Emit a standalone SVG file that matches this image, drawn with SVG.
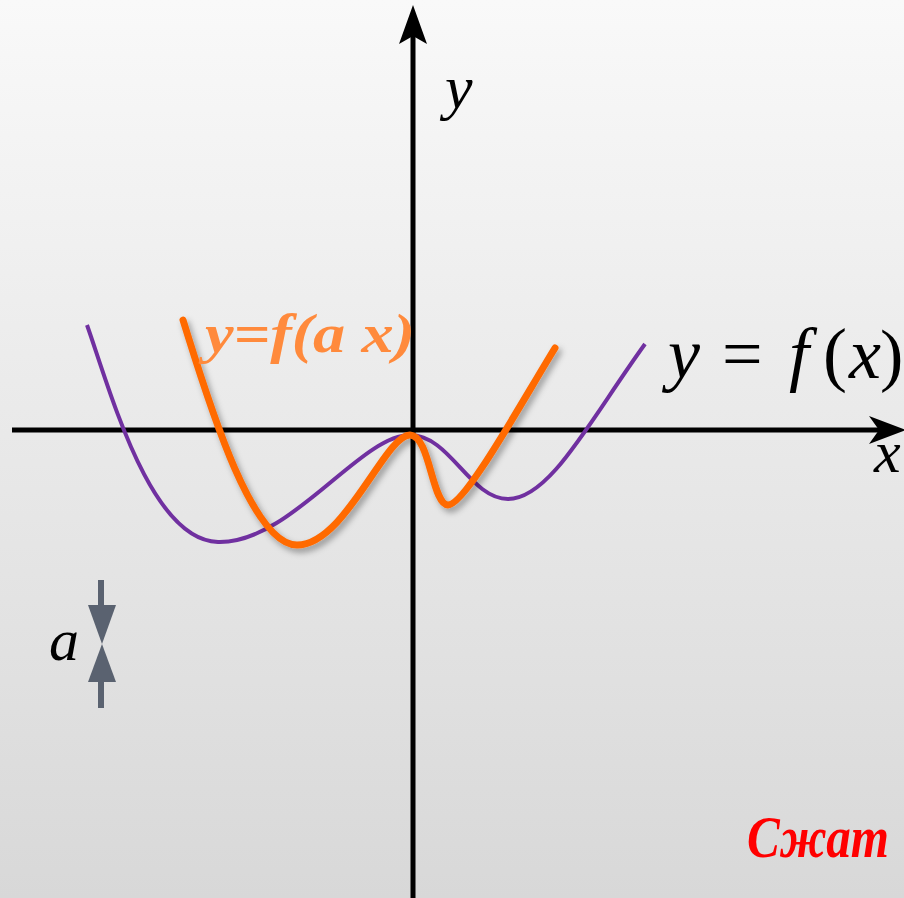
<svg xmlns="http://www.w3.org/2000/svg" width="904" height="898" viewBox="0 0 904 898">
<defs>
<linearGradient id="bg" x1="0" y1="0" x2="0" y2="1">
<stop offset="0" stop-color="#f9f9f9"/>
<stop offset="1" stop-color="#d8d8d8"/>
</linearGradient>
<filter id="sh" x="-10%" y="-10%" width="130%" height="130%">
<feDropShadow dx="3" dy="4" stdDeviation="3" flood-color="#000" flood-opacity="0.35"/>
</filter>
<style>
.ax{stroke:#000;stroke-width:5;fill:none}
.serif{font-family:"Times New Roman","Liberation Serif","DejaVu Serif",serif}
.it{font-style:italic}
.math{fill:#000}
.purple{stroke:#7030a0;stroke-width:4;fill:none}
.orange{stroke:#ff6a00;stroke-width:7;fill:none;stroke-linecap:round;stroke-linejoin:round}
.gray{fill:#5a6270}
</style>
</defs>
<rect width="904" height="898" fill="url(#bg)"/>
<g id="axes">
<line class="ax" x1="413" y1="30" x2="413" y2="898"/>
<polygon points="413,5 427,44 413,36 399,44" fill="#000"/>
<line class="ax" x1="12" y1="430" x2="880" y2="430"/>
<polygon points="906,430 869,444 879,430 869,416" fill="#000"/>
</g>
<g id="labels">
<text class="serif it math" x="445" y="108" font-size="62">y</text>
<text class="serif it math" x="874" y="472" font-size="60">x</text>
<text class="serif it math" x="668" y="378" font-size="72">y</text>
<text class="serif math" x="722" y="378" font-size="72">=</text>
<text class="serif it math" x="789" y="378" font-size="72">f</text>
<text class="serif math" x="823" y="378" font-size="72">(</text>
<text class="serif it math" x="849" y="378" font-size="72">x</text>
<text class="serif math" x="880" y="378" font-size="70">)</text>
<text class="serif it math" x="49" y="660" font-size="60">a</text>
</g>
<g id="curve-fx">
<path class="purple" d="M87,325 C110,390 150,540 218,542 C290,544 360,435 410,435 C450,435 470,499 508,499 C550,499 590,420 645,344"/>
</g>
<g id="curve-fax" filter="url(#sh)">
<path class="orange" d="M183,320 C205,390 250,545 297,545 C345,545 385,435 410,435 C430,435 432,505 448,505 C465,505 520,405 555,348"/>
</g>
<g id="label-fax">
<text class="serif it" x="205" y="352" font-size="54" font-weight="bold" fill="#ff8a3c" textLength="210" lengthAdjust="spacingAndGlyphs">y=f(a x)</text>
</g>
<g id="scale-marker">
<rect class="gray" x="98" y="580" width="6" height="26"/>
<polygon class="gray" points="88,605 116,605 102,644"/>
<polygon class="gray" points="88,682 116,682 102,644"/>
<rect class="gray" x="98" y="681" width="6" height="27"/>
</g>
<g id="title">
<text class="serif it" x="747" y="857" font-size="60" font-weight="bold" fill="#ff0000" textLength="142" lengthAdjust="spacingAndGlyphs">Сжат</text>
</g>
</svg>
